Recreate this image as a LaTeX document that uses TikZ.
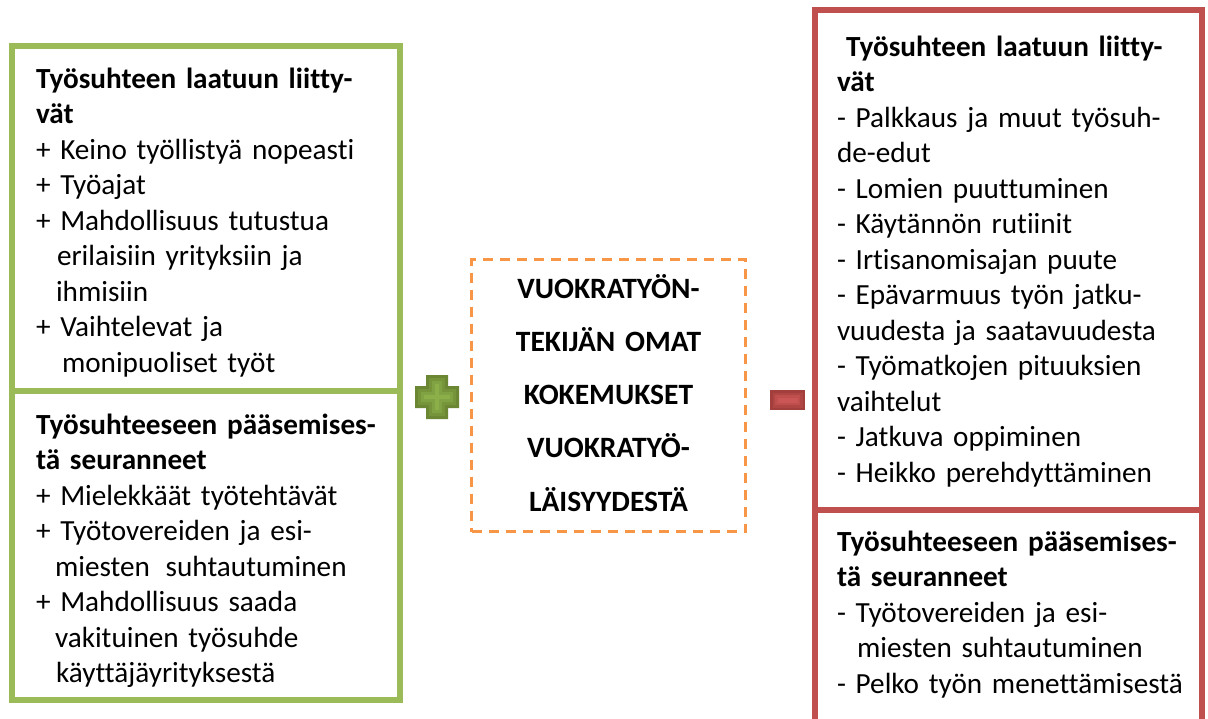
\documentclass[tikz,border=0pt]{standalone}
\usepackage{fontspec}
\setmainfont[Ligatures={NoCommon}]{Carlito}
\newcommand\mytightspace{\spaceskip=0.19em\relax}
\definecolor{grn}{HTML}{9BBB59}
\definecolor{rd}{HTML}{C0504D}
\definecolor{org}{HTML}{F79646}
\definecolor{g1}{HTML}{6B8733}
\definecolor{g2}{HTML}{76953A}
\definecolor{g3}{HTML}{81A242}
\definecolor{g4}{HTML}{8CAF4A}
\definecolor{r1}{HTML}{A23E3C}
\definecolor{r2}{HTML}{B04644}
\definecolor{r3}{HTML}{BE4F4D}
\definecolor{r4}{HTML}{CA5756}
\begin{document}
\begin{tikzpicture}[x=1pt,y=-1pt,
  gbox/.style={draw=grn, line width=6pt, anchor=north west, inner sep=0, outer sep=0},
  rbox/.style={draw=rd, line width=6pt, anchor=north west, inner sep=0, outer sep=0},
  obox/.style={draw=org, line width=3pt, dash pattern=on 10pt off 7pt, anchor=north west, inner sep=0, outer sep=0},
  txt/.style={anchor=base west, inner sep=0, outer sep=0, text width=380pt, align=left, font=\fontsize{29.2}{35.5}\selectfont\mytightspace},
  ctxt/.style={anchor=base, inner sep=0, outer sep=0, text width=270pt, align=center, font=\bfseries\fontsize{29.5}{53.3}\selectfont}]
\useasboundingbox (0,0) rectangle (1208,718);
\clip (0,0) rectangle (1208,718);
\fill[white] (0,0) rectangle (1208,718);

% boxes
\node[gbox, minimum width=388pt, minimum height=344.5pt] (lt) at (12,46) {};
\node[gbox, minimum width=388pt, minimum height=309pt] (lb) at (12,390.5) {};
\node[rbox, minimum width=387pt, minimum height=499.5pt] (rt) at (814.5,10) {};
\node[rbox, minimum width=387pt, minimum height=212.5pt] (rb) at (814.5,509.5) {};
\node[obox, minimum width=274pt, minimum height=272pt] (cb) at (471.5,259.5) {};

% plus sign
\foreach \i/\c in {0/g1,3/g2,6/g3,9/g4}{
  \fill[\c] (437-22+\i,397-11+\i) -- (437-11+\i,397-11+\i) -- (437-11+\i,397-22+\i)
    -- (437+11-\i,397-22+\i) -- (437+11-\i,397-11+\i) -- (437+22-\i,397-11+\i)
    -- (437+22-\i,397+11-\i) -- (437+11-\i,397+11-\i) -- (437+11-\i,397+22-\i)
    -- (437-11+\i,397+22-\i) -- (437-11+\i,397+11-\i) -- (437-22+\i,397+11-\i) -- cycle;
}
% minus sign
\foreach \i/\c in {0/r1,2.5/r2,5/r3,7.5/r4}{
  \fill[\c] (770+\i,390+\i) rectangle (805-\i,410-\i);
}

% texts
\node[txt] (lttext) at (36,88) {\textbf{Työsuhteen laatuun liitty-}\\
\textbf{vät}\\
+ Keino työllistyä nopeasti\\
+ Työajat\\
+ Mahdollisuus tutustua\\
\hspace*{21pt}erilaisiin yrityksiin ja\\
\hspace*{20pt}ihmisiin\\
+ Vaihtelevat ja\\
\hspace*{26pt}monipuoliset työt};

\node[txt] (lbtext) at (36,434) {\textbf{Työsuhteeseen pääsemises-}\\
\textbf{tä seuranneet}\\
+ Mielekkäät työtehtävät\\
+ Työtovereiden ja esi-\\
\hspace*{19pt}miesten\hspace{6pt} suhtautuminen\\
+ Mahdollisuus saada\\
\hspace*{19pt}vakituinen työsuhde\\
\hspace*{20pt}käyttäjäyrityksestä};

\node[txt] (rttext) at (837,56) {\hspace*{9pt}\textbf{Työsuhteen laatuun liitty-}\\
\textbf{vät}\\
- Palkkaus ja muut työsuh-\\
de-edut\\
- Lomien puuttuminen\\
- Käytännön rutiinit\\
- Irtisanomisajan puute\\
- Epävarmuus työn jatku-\\
vuudesta ja saatavuudesta\\
- Työmatkojen pituuksien\\
vaihtelut\\
- Jatkuva oppiminen\\
- Heikko perehdyttäminen};

\node[txt] (rbtext) at (837,551) {\textbf{Työsuhteeseen pääsemises-}\\
\textbf{tä seuranneet}\\
- Työtovereiden ja esi-\\
\hspace*{20pt}miesten suhtautuminen\\
- Pelko työn menettämisestä};

\node[ctxt] (ctext) at (608.5,298) {VUOKRATYÖN-\\TEKIJÄN OMAT\\KOKEMUKSET\\VUOKRATYÖ-\\LÄISYYDESTÄ};
\end{tikzpicture}
\end{document}
